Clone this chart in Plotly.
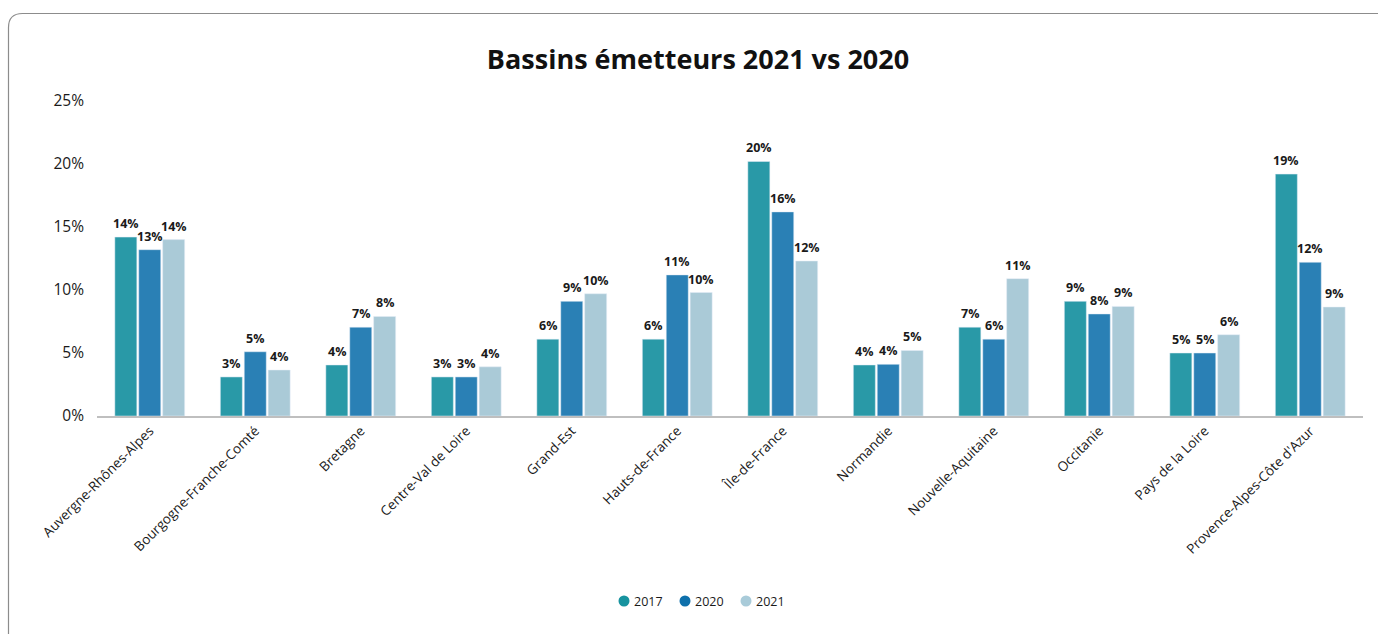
import plotly.graph_objects as go

# Regions (categories)
regions = [
    "Auvergne-Rhônes-Alpes", "Bourgogne-Franche-Comté", "Bretagne",
    "Centre-Val de Loire", "Grand-Est", "Hauts-de-France", "Île-de-France",
    "Normandie", "Nouvelle-Aquitaine", "Occitanie", "Pays de la Loire",
    "Provence-Alpes-Côte d'Azur",
]

# Share of emitters per region (%)
share_2017 = [14.2, 3.1, 4.05, 3.1, 6.1, 6.1, 20.2, 4.05, 7.05, 9.1, 5.0, 19.2]
share_2020 = [13.2, 5.1, 7.05, 3.1, 9.1, 11.2, 16.2, 4.1, 6.1, 8.1, 5.0, 12.2]
share_2021 = [14.0, 3.65, 7.9, 3.9, 9.7, 9.8, 12.3, 5.2, 10.9, 8.7, 6.45, 8.65]

years = ["2017", "2020", "2021"]
series = [share_2017, share_2020, share_2021]
bar_colors = ["#2999A7", "#2A80B5", "#AACAD7"]
legend_colors = ["#17939F", "#0E70AB", "#A9CBD9"]

W, H = 1378, 634
ML, MR, MT, MB = 97, 15, 101, 218
PW, PH = W - ML - MR, H - MT - MB

FONT = "Open Sans"
TEXT = "#1a1a1a"
BARGAP, GROUPGAP = 0.32, 0.08

fig = go.Figure()
for name, vals, col in zip(years, series, bar_colors):
    fig.add_trace(go.Bar(
        x=regions, y=vals, name=name, marker_color=col, showlegend=False,
        hoverinfo="x+y",
    ))

# value labels above each bar
slot = (1 - BARGAP) / len(series)
for k, vals in enumerate(series):
    offset = (k - (len(series) - 1) / 2) * slot
    for i, v in enumerate(vals):
        fig.add_annotation(
            x=i + offset, y=v, xref="x", yref="y",
            text=f"<b>{v:.0f}%</b>", showarrow=False,
            yanchor="bottom", yshift=3,
            font=dict(family=FONT, size=12.5, color=TEXT),
        )


def px_x(p):
    return (p - ML) / PW


def px_y(p):
    return (H - MB - p) / PH


# rounded card outline
x0, y0, r = 8.5, 13.5, 14
x1, y1 = W + 20, H + 20
path = (
    f"M {px_x(x0)},{px_y(y1)} L {px_x(x0)},{px_y(y0 + r)} "
    f"Q {px_x(x0)},{px_y(y0)} {px_x(x0 + r)},{px_y(y0)} "
    f"L {px_x(x1)},{px_y(y0)}"
)
fig.add_shape(type="path", path=path, xref="paper", yref="paper",
              line=dict(color="#8c8c8c", width=1.2), layer="below")

# legend: round markers with year labels
legend_x = [624, 685, 746]
legend_y = 601
for name, col, lx in zip(years, legend_colors, legend_x):
    rad = 5.5
    fig.add_shape(
        type="circle", xref="paper", yref="paper",
        x0=px_x(lx - rad), x1=px_x(lx + rad),
        y0=px_y(legend_y + rad), y1=px_y(legend_y - rad),
        fillcolor=col, line=dict(width=0),
    )
    fig.add_annotation(
        x=px_x(lx + 8), y=px_y(legend_y), xref="paper", yref="paper",
        text=name, showarrow=False, xanchor="left", yanchor="middle",
        font=dict(family=FONT, size=12.5, color=TEXT),
    )

fig.update_layout(
    width=W, height=H,
    margin=dict(l=ML, r=MR, t=MT, b=MB),
    paper_bgcolor="white", plot_bgcolor="white",
    font=dict(family=FONT, color=TEXT),
    title=dict(
        text="<b>Bassins émetteurs 2021 vs 2020</b>",
        x=698 / W, xref="container", xanchor="center",
        y=1 - 60 / H, yanchor="middle",
        font=dict(family=FONT, size=27, color="#111111"),
    ),
    barmode="group", bargap=BARGAP, bargroupgap=GROUPGAP,
    showlegend=False,
    xaxis=dict(
        tickangle=-45, tickfont=dict(family=FONT, size=13.5, color=TEXT),
        showline=True, linecolor="#bfbfbf", linewidth=1.5, ticks="",
        showgrid=False,
    ),
    yaxis=dict(
        range=[0, 25], dtick=5, ticksuffix="%", showgrid=False,
        zeroline=False, showline=False,
        tickfont=dict(family=FONT, size=15.5, color=TEXT),
        ticklabelstandoff=12,
    ),
)

fig.write_html("out.html")
